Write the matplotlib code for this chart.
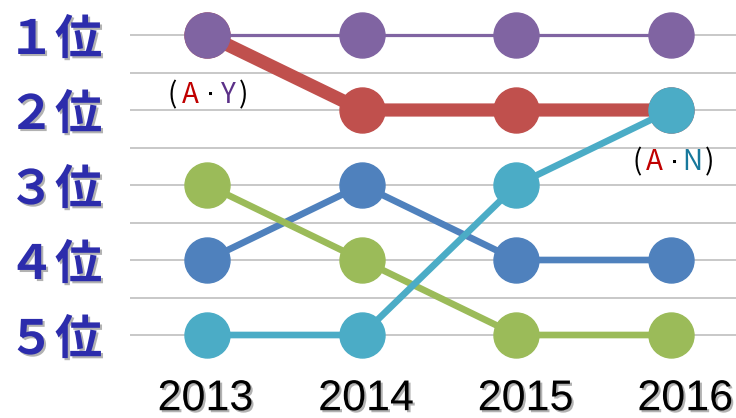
import matplotlib
matplotlib.use("Agg")
import matplotlib.pyplot as plt
import matplotlib.patheffects as pe
from matplotlib.transforms import offset_copy, ScaledTranslation

years = ["2013", "2014", "2015", "2016"]
rank_labels = ["１位", "２位", "３位", "４位", "５位"]
ranks = [1, 2, 3, 4, 5]

series_red = [1, 2, 2, 2]
series_purple = [1, 1, 1, 1]
series_blue = [4, 3, 4, 4]
series_green = [3, 4, 5, 5]
series_teal = [5, 5, 3, 2]

note_ay_chars = ["(", "A", "▪", "Y", ")"]
note_ay_colors = ["black", "#C00000", "black", "#5B3088", "black"]
note_an_chars = ["(", "A", "▪", "N", ")"]
note_an_colors = ["black", "#C00000", "black", "#17789C", "black"]

fig = plt.figure(figsize=(7.36, 4.18), dpi=100)
ax = fig.add_axes([130 / 736, (418 - 350) / 418, 1 - 130 / 736, 350 / 418])

x = list(range(len(years)))
ms = 32.4
kw = dict(marker="o", ms=ms, clip_on=False)
ax.plot(x, series_red, color="#C0504D", lw=9.5, zorder=3, solid_capstyle="butt", **kw)
ax.plot(x, series_purple, color="#8064A2", lw=2.3, zorder=4, **kw)
ax.plot(x, series_blue, color="#4F81BD", lw=4.8, zorder=5, **kw)
ax.plot(x, series_green, color="#9BBB59", lw=4.8, zorder=6, **kw)
ax.plot(x, series_teal, color="#4BACC6", lw=4.8, zorder=7, **kw)

ax.set_xlim(-0.5, 3.42)
ax.set_ylim(5.2, 1 - 35 / 75)

ax.set_yticks(ranks)
ax.set_yticks([1.5, 2.5, 3.5, 4.5], minor=True)
ax.grid(True, axis="y", which="both", color="#C4C4C4", lw=1.3, zorder=0)
ax.tick_params(axis="y", which="both", length=0)
ax.set_yticklabels(rank_labels, fontsize=34, fontweight="bold", color="#2C2CAC",
                   family=["Noto Sans CJK JP", "DejaVu Sans"])
ax.tick_params(axis="y", pad=20)

ax.set_xticks(x)
ax.set_xticklabels(years, fontsize=31, color="black",
                   family=["Liberation Sans", "DejaVu Sans"])
ax.tick_params(axis="x", length=0, pad=21)

shadow = [pe.withSimplePatchShadow(offset=(1.5, -1.5), shadow_rgbFace="#555555", alpha=0.45)]
for lab in ax.get_yticklabels():
    lab.set_path_effects(shadow)
for lab, dx in zip(ax.get_xticklabels(), [-2, 4, 9, 14]):
    lab.set_path_effects(shadow)
    lab.set_transform(lab.get_transform() + ScaledTranslation(dx / 100, 0, fig.dpi_scale_trans))

for sp in ax.spines.values():
    sp.set_visible(False)

def note(anchor, chars, colors, offsets):
    for ch, col, dx in zip(chars, colors, offsets):
        tr = offset_copy(ax.transData, fig=fig, x=dx, y=0, units="dots")
        size = 8 if ch == "▪" else 20
        ax.text(anchor[0], anchor[1], ch, color=col, fontsize=size, ha="center", va="center",
                transform=tr, family=["Noto Sans CJK JP", "DejaVu Sans"], zorder=10)

note((0, 1.8), note_ay_chars, note_ay_colors, [-35, -17, 3, 21, 36])
note((3, 2.7), note_an_chars, note_an_colors, [-34, -17, 3, 21, 38])

fig.savefig("out.png", dpi=100)
